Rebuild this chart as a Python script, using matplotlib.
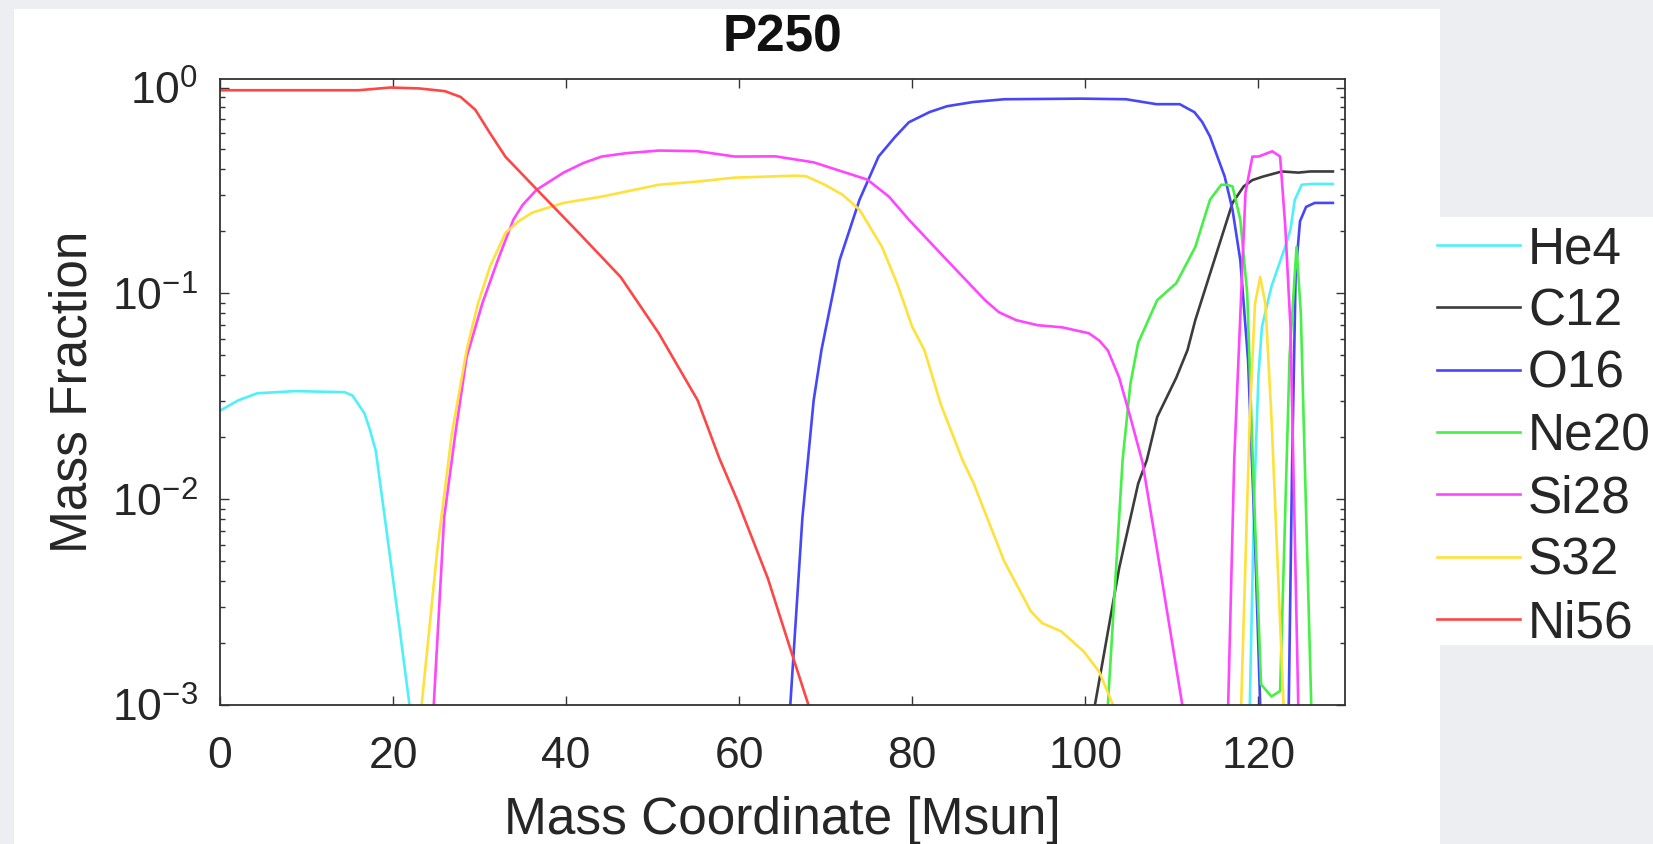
import matplotlib
matplotlib.use("Agg")
import matplotlib.pyplot as plt
from matplotlib.patches import Rectangle
from matplotlib.ticker import LogLocator, NullFormatter, FixedLocator, NullLocator

plt.rcParams['font.family'] = ['Liberation Sans', 'DejaVu Sans']
plt.rcParams['mathtext.fontset'] = 'custom'
plt.rcParams['mathtext.rm'] = 'Liberation Sans'
plt.rcParams['mathtext.it'] = 'Liberation Sans'
plt.rcParams['mathtext.bf'] = 'Liberation Sans:bold'

TITLE = "P250"
XLABEL = "Mass Coordinate [Msun]"
YLABEL = "Mass Fraction"
species = ["He4", "C12", "O16", "Ne20", "Si28", "S32", "Ni56"]
colors = ["#50f0fa", "#3c3c3c", "#4646fa", "#46f046", "#ff46ff", "#ffe13c", "#ff4646"]

xticks = [0, 20, 40, 60, 80, 100, 120]
yticks = [1e-3, 1e-2, 1e-1, 1e0]
yticklabels = [r"$\mathregular{10^{-3}}$", r"$\mathregular{10^{-2}}$",
               r"$\mathregular{10^{-1}}$", r"$\mathregular{10^{0}}$"]

# values (1e-5 = below the plotted range)
he4_x = [0, 2.1, 4.3, 8.7, 14.4, 15.3, 16.7, 17.3, 18.0, 19.3, 20.6, 21.9, 22.4,
         118.5, 119.0, 119.5, 120.0, 120.4, 121.5, 123.1, 123.7, 124.2, 125.0, 126.1, 128.6]
he4_y = [0.0269, 0.0302, 0.0327, 0.0335, 0.0331, 0.0319, 0.0261, 0.0219, 0.0172, 0.00676, 0.00263, 0.0010, 1e-5,
         1e-5, 0.0010, 0.010, 0.0398, 0.0687, 0.108, 0.169, 0.204, 0.285, 0.337, 0.340, 0.340]

c12_x = [100.6, 101.1, 102.2, 103.9, 106.1, 107.1, 108.3, 110.5, 111.8, 112.7, 114.9,
         117.0, 118.3, 119.3, 120.5, 122.7, 124.6, 126.0, 128.6]
c12_y = [1e-5, 0.0010, 0.00182, 0.00462, 0.0119, 0.0155, 0.0251, 0.0389, 0.0530, 0.0741, 0.145,
         0.275, 0.331, 0.355, 0.369, 0.391, 0.386, 0.391, 0.391]

o16_x = [65.4, 65.9, 67.3, 68.6, 69.5, 71.6, 73.9, 76.1, 78.0, 79.6, 82.0, 84.0, 87.0, 90.6, 99.5,
         104.7, 108.2, 110.9, 112.6, 113.5, 114.4, 116.1, 117.0, 117.9, 118.8, 119.6, 120.2, 120.6,
         123.1, 123.5, 123.9, 124.3, 124.8, 125.5, 126.5, 128.6]
o16_y = [1e-5, 0.0010, 0.00813, 0.0302, 0.0530, 0.145, 0.285, 0.462, 0.575, 0.678, 0.76, 0.811, 0.85, 0.877, 0.883,
         0.877, 0.830, 0.830, 0.759, 0.68, 0.578, 0.369, 0.255, 0.145, 0.0473, 0.0063, 0.0010, 1e-5,
         1e-5, 0.0010, 0.0158, 0.126, 0.224, 0.263, 0.275, 0.275]

ne20_x = [102.1, 102.6, 103.9, 104.3, 105.2, 106.1, 108.3, 110.5, 112.7, 114.4, 115.7, 116.3,
          117.0, 117.9, 118.7, 119.5, 120.3, 121.5, 122.5, 123.0, 123.6, 124.4, 124.9, 125.4,
          126.1, 126.5, 128.6]
ne20_y = [1e-5, 0.0010, 0.00813, 0.0155, 0.0363, 0.0575, 0.0927, 0.112, 0.168, 0.285, 0.337, 0.337,
          0.331, 0.228, 0.100, 0.010, 0.00126, 0.0011, 0.00117, 0.0063, 0.0501, 0.168, 0.0794, 0.0126,
          0.0010, 1e-5, 1e-5]

si28_x = [24.2, 24.7, 25.9, 27.2, 28.5, 30.3, 32.1, 33.9, 35.0, 36.6, 39.7, 42.0, 44.1, 47.0, 50.7,
          55.1, 59.5, 64.2, 68.6, 74.8, 77.3, 79.6, 84.0, 88.4, 90.0, 92.0, 94.5, 97.3, 100.4, 101.6,
          102.6, 103.9, 105.2, 106.6, 108.3, 111.2,
          111.6, 116.1, 116.5, 117.2, 118.5, 119.3, 120.0, 121.6, 122.5, 123.1, 123.7, 124.6,
          125.0, 128.6]
si28_y = [1e-5, 0.0010, 0.00813, 0.0209, 0.0490, 0.089, 0.145, 0.228, 0.27, 0.319, 0.386, 0.43, 0.462, 0.48, 0.494,
          0.491, 0.462, 0.463, 0.433, 0.357, 0.295, 0.228, 0.145, 0.0927, 0.081, 0.0741, 0.070, 0.0684, 0.0640, 0.059,
          0.0528, 0.0390, 0.025, 0.0151, 0.0056, 0.0010,
          1e-5, 1e-5, 0.0010, 0.0155, 0.309, 0.462, 0.462, 0.490, 0.462, 0.211, 0.0686, 0.0010,
          1e-5, 1e-5]

s32_x = [22.8, 23.3, 25.1, 26.8, 28.5, 29.8, 31.2, 33.0, 34.5, 36.1, 39.7, 44.1, 50.7, 55.4, 59.5, 66.5,
         67.7, 69.9, 71.9, 73.9, 76.5, 78.3, 80.0, 81.4, 83.3, 85.8, 87.1, 90.6, 93.7, 95.0, 97.2, 99.8, 101.6,
         103.2, 103.6, 117.6, 118.0, 119.0, 119.6, 120.2, 120.8, 121.5, 122.9, 123.3, 128.6]
s32_y = [1e-5, 0.0010, 0.00562, 0.0209, 0.0530, 0.089, 0.135, 0.197, 0.224, 0.247, 0.275, 0.295, 0.337, 0.350, 0.365, 0.373,
         0.371, 0.337, 0.302, 0.255, 0.168, 0.11, 0.0686, 0.0530, 0.0288, 0.0155, 0.0119, 0.00501, 0.00285, 0.0025, 0.00228, 0.00182, 0.00145,
         0.0010, 1e-5, 1e-5, 0.0010, 0.0251, 0.0891, 0.120, 0.0891, 0.0251, 0.0010, 1e-5, 1e-5]

ni56_x = [0, 10, 16, 19.7, 23, 26, 27.8, 29.5, 31.2, 33.0, 36.6, 41.8, 46.3, 50.7, 55.2, 57.7, 59.8,
          63.3, 66.0, 68.0, 68.4]
ni56_y = [0.97, 0.97, 0.97, 1.0, 0.99, 0.96, 0.90, 0.78, 0.60, 0.46, 0.32, 0.19, 0.12, 0.0640, 0.0302, 0.0158, 0.00982,
          0.00413, 0.00182, 0.0010, 1e-5]

series_x = [he4_x, c12_x, o16_x, ne20_x, si28_x, s32_x, ni56_x]
series_y = [he4_y, c12_y, o16_y, ne20_y, si28_y, s32_y, ni56_y]

W, H = 1653, 844
fig = plt.figure(figsize=(W / 100, H / 100), dpi=100)
fig.patch.set_facecolor("#eceef1")
# white panels (behind everything)
fig.patches.append(Rectangle((14 / W, 0), (1440 - 14) / W, (H - 9) / H,
                             transform=fig.transFigure, facecolor="white", edgecolor="none", zorder=-10))
fig.patches.append(Rectangle((1440 / W, 1 - 645 / H), (W - 1440) / W, (645 - 217) / H,
                             transform=fig.transFigure, facecolor="white", edgecolor="none", zorder=-10))

ax = fig.add_axes([220 / W, 1 - 705 / H, (1345 - 220) / W, (705 - 79) / H])
ax.set_facecolor("white")
ax.set_zorder(1)

handles = []
for name, xs, ys, c in zip(species, series_x, series_y, colors):
    (ln,) = ax.plot(xs, ys, color=c, lw=1.9, label=name, solid_joinstyle="round")
    handles.append(ln)

ax.set_yscale("log")
ax.set_xlim(0, 130)
ax.set_ylim(1e-3, 1.1)

axis_col = "#333333"
txt_col = "#262626"
ax.xaxis.set_major_locator(FixedLocator(xticks))
ax.xaxis.set_minor_locator(NullLocator())
ax.set_yticks(yticks)
ax.set_yticklabels(yticklabels)
ax.yaxis.set_minor_locator(LogLocator(base=10, subs=range(2, 10)))
ax.yaxis.set_minor_formatter(NullFormatter())

ax.tick_params(axis="both", which="both", direction="in", top=True, right=True,
               colors=axis_col, labelcolor=txt_col)
ax.tick_params(axis="both", which="major", length=6.5, width=1.0, labelsize=32)
ax.tick_params(axis="both", which="minor", length=3.6, width=1.0)
ax.tick_params(axis="x", which="major", pad=22)
ax.tick_params(axis="y", which="major", pad=16)
for s in ax.spines.values():
    s.set_color(axis_col)
    s.set_linewidth(1.3)

ax.set_title(TITLE, fontsize=37, fontweight="bold", color="#111111", pad=19.5)
ax.set_xlabel(XLABEL, fontsize=37, color=txt_col, labelpad=14)
ax.set_ylabel(YLABEL, fontsize=37, color=txt_col, labelpad=10)

leg = fig.legend(handles, species, loc="upper left",
                 bbox_to_anchor=(1437 / W, 1 - 225 / H), bbox_transform=fig.transFigure,
                 frameon=False, fontsize=37, handlelength=1.61, handletextpad=0.16,
                 labelspacing=0.26, borderpad=0, borderaxespad=0)
for t in leg.get_texts():
    t.set_color(txt_col)

fig.savefig("out.png", dpi=100, facecolor=fig.get_facecolor())
